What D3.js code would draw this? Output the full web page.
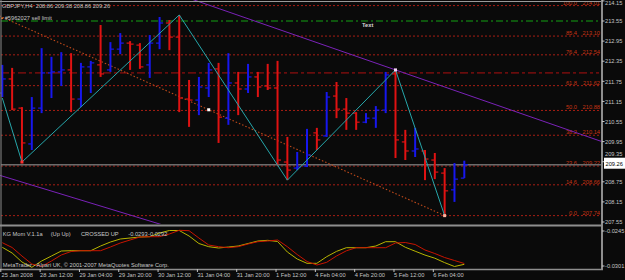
<!DOCTYPE html>
<html><head><meta charset="utf-8">
<script src="https://cdn.jsdelivr.net/npm/d3@7"></script>
<style>
html,body{margin:0;padding:0;background:#0a0a0a;}
svg{display:block;}
text{font-family:"Liberation Sans",Arial,sans-serif;font-size:5.7px;}
</style></head><body>
<svg id="c" width="625" height="280"></svg>
<script>
// ---- data (GBPJPY H4) ----
const opens  = [211.40,211.82,210.95,209.88,210.95,212.00,212.03,212.09,211.22,212.18,212.24,212.09,212.71,212.89,212.83,212.24,212.89,213.49,213.07,211.22,211.19,211.55,212.12,210.65,211.70,211.52,211.88,211.61,211.55,209.34,209.16,209.22,210.21,210.12,211.31,210.92,210.80,210.53,210.65,210.89,211.97,209.94,209.67,209.67,209.40,209.01,208.51,208.86];
const highs  = [212.24,212.15,210.98,211.28,212.74,212.48,212.62,212.59,212.30,212.36,213.43,212.92,213.19,212.95,212.89,213.13,213.67,213.58,213.73,211.79,211.88,212.30,212.30,212.59,212.03,212.27,212.03,212.27,212.36,210.09,209.64,210.33,210.36,211.43,211.73,211.25,210.83,210.80,211.01,212.03,212.09,210.30,210.36,209.70,209.61,209.16,209.31,209.38];
const lows   = [211.28,210.89,209.34,209.70,210.80,211.25,211.61,210.83,210.98,211.40,211.88,212.03,212.56,212.09,212.12,211.85,212.71,212.68,210.83,210.39,210.74,211.28,209.91,210.45,210.74,211.40,211.28,211.49,209.25,208.80,209.10,209.19,209.70,210.09,210.65,210.30,210.30,210.50,210.36,210.80,209.46,209.40,209.49,208.80,208.83,207.74,208.15,208.86];
const closes = [211.82,210.92,209.91,210.95,212.00,212.03,212.09,211.22,212.18,212.30,211.97,212.71,212.89,212.86,212.18,212.89,213.49,213.07,211.25,211.19,211.58,212.09,210.68,211.70,211.52,211.88,211.58,211.55,209.40,209.10,209.19,209.55,210.00,211.28,210.92,210.80,210.53,210.65,210.89,211.94,210.00,209.67,209.73,209.43,209.04,208.48,208.83,209.26];

const tickIdx    = [0,4,8,12,16,20,24,28,32,36,40,44];
const tickLabels = ["25 Jan 2008","28 Jan 12:00","29 Jan 04:00","29 Jan 20:00","30 Jan 12:00","31 Jan 04:00","31 Jan 20:00","1 Feb 12:00","4 Feb 04:00","4 Feb 20:00","5 Feb 12:00","6 Feb 04:00"];
const priceTicks = [214.15,213.55,212.95,212.35,211.75,211.15,210.55,209.95,209.35,208.75,208.15,207.55];

const fibLevels = ["100.0","85.4","76.4","61.8","50.0","38.2","23.6","14.6","0.0"];
const fibPrices = [214.01,213.10,212.54,211.62,210.88,210.14,209.22,208.66,207.74];

const zigIdx   = [0,2,18,29,40,45];
const zigPrice = [211.25,209.34,213.73,208.80,212.09,207.74];

const upperLine  = [[40,212.09],[61,209.95]];
const lowerLine  = [[0,208.92],[15,207.58]];
const dottedLine = [[45,207.74],[21,210.90]];

const bidPrice = 209.26, sellLimit = 213.55, redHLine = 212.00;

const momYellow = [-0.02711,-0.02802,-0.02946,-0.03031,-0.0293,-0.0285,-0.0277,-0.02765,-0.02765,-0.02765,-0.0269,-0.02626,-0.02578,-0.02562,-0.02546,-0.02541,-0.02482,-0.02442,-0.02442,-0.0253,-0.0265,-0.02701,-0.02722,-0.02706,-0.0269,-0.0265,-0.0261,-0.02599,-0.02618,-0.02786,-0.02898,-0.02967,-0.02967,-0.02861,-0.02776,-0.02717,-0.02717,-0.02717,-0.0269,-0.02621,-0.02621,-0.02710,-0.02773,-0.02835,-0.02885,-0.02956,-0.03018,-0.02983];
const momRed    = [-0.02637,-0.02714,-0.0285,-0.02978,-0.03018,-0.0293,-0.02834,-0.02778,-0.02765,-0.02765,-0.02765,-0.02706,-0.02642,-0.02594,-0.02546,-0.02541,-0.02541,-0.02498,-0.02439,-0.02445,-0.02562,-0.02674,-0.02701,-0.02717,-0.02701,-0.02658,-0.02621,-0.0261,-0.02594,-0.02701,-0.02826,-0.02938,-0.02994,-0.02951,-0.0285,-0.02767,-0.02717,-0.02717,-0.02717,-0.02717,-0.02642,-0.02634,-0.02666,-0.02754,-0.0281,-0.02874,-0.02922,-0.0297];
const momTicks = [-0.0245,-0.0301];

// ---- scales ----
const x  = d3.scaleLinear().domain([0,47]).range([2.3,464.3]);
const y  = d3.scaleLinear().domain([207.55,213.55]).range([222,21]);
const ym = d3.scaleLinear().domain([-0.0301,-0.0245]).range([266,231]);

const svg = d3.select("#c");
svg.append("rect").attr("width",625).attr("height",280).attr("fill","#0a0a0a");
const defs = svg.append("defs");
defs.append("clipPath").attr("id","mainClip").append("rect").attr("x",0).attr("y",0).attr("width",601).attr("height",224);
defs.append("clipPath").attr("id","indClip").append("rect").attr("x",0).attr("y",226).attr("width",601).attr("height",43);

const main = svg.append("g").attr("clip-path","url(#mainClip)");

// fib levels
fibPrices.forEach((p,i)=>{
  main.append("line").attr("x1",1).attr("x2",600).attr("y1",y(p)).attr("y2",y(p))
    .attr("stroke","#a81e14").attr("stroke-width",1).attr("stroke-dasharray","2,2");
  main.append("text").attr("x",577).attr("y",y(p)-1).attr("text-anchor","end").attr("fill","#c83414").text(fibLevels[i]);
  main.append("text").attr("x",600).attr("y",y(p)-1).attr("text-anchor","end").attr("fill","#c83414").text(p.toFixed(2));
});

// horizontal lines
main.append("line").attr("x1",1).attr("x2",599).attr("y1",y(sellLimit)).attr("y2",y(sellLimit))
  .attr("stroke","#12a012").attr("stroke-width",1).attr("stroke-dasharray","7,3,2,3");
main.append("line").attr("x1",1).attr("x2",599).attr("y1",y(redHLine)).attr("y2",y(redHLine))
  .attr("stroke","#b01010").attr("stroke-width",1).attr("stroke-dasharray","8,3,3,3");
main.append("line").attr("x1",1).attr("x2",601).attr("y1",y(bidPrice)).attr("y2",y(bidPrice))
  .attr("stroke","#6c6c6c").attr("stroke-width",1.6);

// trend lines
function extLine(pts, i0, i1){
  const [a,b] = pts; const s = (b[1]-a[1])/(b[0]-a[0]);
  return [[x(i0), y(a[1]+(i0-a[0])*s)], [x(i1), y(a[1]+(i1-a[0])*s)]];
}
const up = extLine(upperLine,-10,70);
main.append("line").attr("x1",up[0][0]).attr("y1",up[0][1]).attr("x2",up[1][0]).attr("y2",up[1][1])
  .attr("stroke","#7a22b8").attr("stroke-width",1);
const lo = extLine(lowerLine,-1,25);
main.append("line").attr("x1",lo[0][0]).attr("y1",lo[0][1]).attr("x2",lo[1][0]).attr("y2",lo[1][1])
  .attr("stroke","#7a22b8").attr("stroke-width",1);
const dt = extLine(dottedLine,45,-1);
main.append("line").attr("x1",dt[0][0]).attr("y1",dt[0][1]).attr("x2",dt[1][0]).attr("y2",dt[1][1])
  .attr("stroke","#c04a1a").attr("stroke-width",1.1).attr("stroke-dasharray","1.5,2");

// bars
const bars = main.append("g");
d3.range(opens.length).forEach(i=>{
  const col = closes[i] >= opens[i] ? "#1717ee" : "#e01212";
  const cx = x(i);
  bars.append("line").attr("x1",cx).attr("x2",cx).attr("y1",y(highs[i])).attr("y2",y(lows[i]))
    .attr("stroke",col).attr("stroke-width",2);
  bars.append("line").attr("x1",cx-3.5).attr("x2",cx).attr("y1",y(opens[i])).attr("y2",y(opens[i]))
    .attr("stroke",col).attr("stroke-width",1.2);
  bars.append("line").attr("x1",cx).attr("x2",cx+3.5).attr("y1",y(closes[i])).attr("y2",y(closes[i]))
    .attr("stroke",col).attr("stroke-width",1.2);
});

// zigzag
const zz = d3.line().x(d=>x(d[0])).y(d=>y(d[1]));
main.append("path").attr("d",zz(zigIdx.map((d,i)=>[d,zigPrice[i]])))
  .attr("fill","none").attr("stroke","#26a6aa").attr("stroke-width",1);

// anchor markers
[[dottedLine[1],"#ffffff"],[upperLine[0],"#f4d4f4"],[dottedLine[0],"#ffb4a0"],[[zigIdx[1],zigPrice[1]],"#ff3030"]].forEach(([p,c])=>{
  main.append("rect").attr("x",x(p[0])-1.5).attr("y",y(p[1])-1.5).attr("width",3).attr("height",3).attr("fill",c);
});

// texts in main
main.append("text").attr("x",2).attr("y",8.3).attr("fill","#c8c8c8").attr("xml:space","preserve")
  .text("GBPJPY,H4  208.86 209.38 208.86 209.26");
main.append("rect").attr("x",1).attr("y",y(sellLimit)-3.5).attr("width",2).attr("height",1.6).attr("fill","#e07020");
main.append("text").attr("x",4.7).attr("y",y(sellLimit)-0.6).attr("fill","#c8c8c8").text("#5962027 sell limit");
main.append("text").attr("x",362).attr("y",26.7).attr("fill","#d8d8d8").attr("font-weight","bold").text("Text");

// indicator
const ind = svg.append("g").attr("clip-path","url(#indClip)");
const ml = d3.line().x((d,i)=>x(i)).y(d=>ym(d));
ind.append("path").attr("d",ml(momYellow)).attr("fill","none").attr("stroke","#b8b400").attr("stroke-width",1);
ind.append("path").attr("d",ml(momRed)).attr("fill","none").attr("stroke","#c81400").attr("stroke-width",1);
const labG = svg.append("g").attr("fill","#c8c8c8");
[["KG Mom V.1.1a",2.7],["(Up Up)",50.7],["CROSSED UP",81],["-0.0293",128.3],["-0.0292",148]].forEach(([t,px])=>{
  labG.append("text").attr("x",px).attr("y",235.5).text(t);
});
labG.append("text").attr("x",2.7).attr("y",266.5).text("MetaTrader - Alpari UK, \u00a9 2001-2007 MetaQuotes Software Corp.");

// frame lines
svg.append("line").attr("x1",0).attr("x2",602).attr("y1",1.5).attr("y2",1.5).attr("stroke","#9a9a9a").attr("stroke-width",1);
svg.append("line").attr("x1",1).attr("x2",1).attr("y1",0).attr("y2",269).attr("stroke","#8a8a8a").attr("stroke-width",1);
svg.append("line").attr("x1",0).attr("x2",602).attr("y1",225.5).attr("y2",225.5).attr("stroke","#8e8e8e").attr("stroke-width",2);
svg.append("line").attr("x1",0).attr("x2",603).attr("y1",269.5).attr("y2",269.5).attr("stroke","#8e8e8e").attr("stroke-width",1.3);
svg.append("line").attr("x1",602).attr("x2",602).attr("y1",0).attr("y2",270).attr("stroke","#8e8e8e").attr("stroke-width",2);

// right price axis
const axG = svg.append("g").attr("fill","#c4c4c4");
const bidY = y(bidPrice);
priceTicks.forEach(t=>{
  let ty = y(t);
  axG.append("line").attr("x1",602).attr("x2",604.5).attr("y1",ty).attr("y2",ty).attr("stroke","#c4c4c4").attr("stroke-width",1);
  if (Math.abs(ty-bidY) < 9) ty = bidY - 10.5;
  ty = Math.max(ty, 3.2);
  axG.append("text").attr("x",605).attr("y",ty+2.2).text(t.toFixed(2));
});
svg.append("rect").attr("x",604).attr("y",bidY-7).attr("width",21).attr("height",11).attr("fill","#ffffff");
svg.append("text").attr("x",605.5).attr("y",bidY+1.2).attr("fill","#000").text(bidPrice.toFixed(2));

momTicks.forEach(t=>{
  axG.append("line").attr("x1",602).attr("x2",604.5).attr("y1",ym(t)).attr("y2",ym(t)).attr("stroke","#c4c4c4").attr("stroke-width",1);
  axG.append("text").attr("x",605).attr("y",ym(t)+2.2).text(t.toFixed(4));
});

// time axis
tickIdx.forEach((ti,k)=>{
  const tx = x(ti)-1.5;
  axG.append("line").attr("x1",tx).attr("x2",tx).attr("y1",269).attr("y2",272).attr("stroke","#c4c4c4").attr("stroke-width",1);
  axG.append("text").attr("x",Math.max(tx,1.5)).attr("y",276.5).text(tickLabels[k]);
});
</script>
</body></html>
